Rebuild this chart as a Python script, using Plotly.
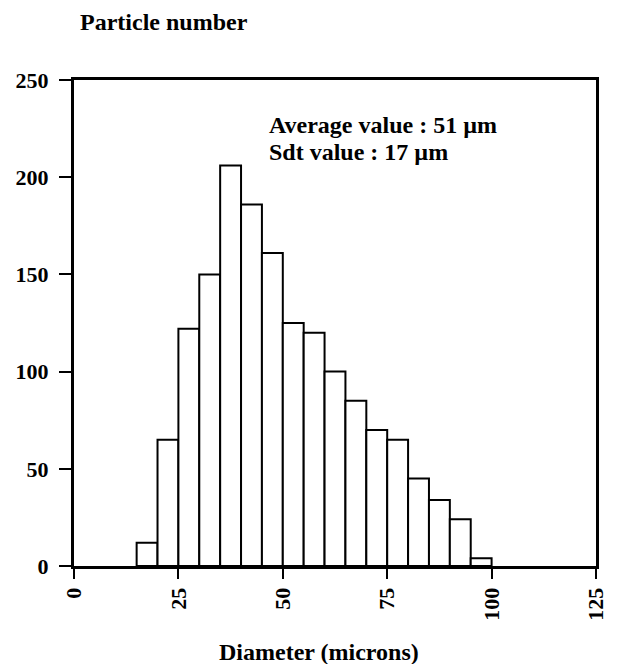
import plotly.graph_objects as go

bin_left = [15, 20, 25, 30, 35, 40, 45, 50, 55, 60, 65, 70, 75, 80, 85, 90, 95]
counts = [12, 65, 122, 150, 206, 186, 161, 125, 120, 100, 85, 70, 65, 45, 34, 24, 4]
bin_width = 5
x_ticks = [0, 25, 50, 75, 100, 125]
y_ticks = [0, 50, 100, 150, 200, 250]

font = "Liberation Serif, Times New Roman, serif"

fig = go.Figure()
fig.add_trace(go.Bar(
    x=[b + bin_width / 2 for b in bin_left],
    y=counts,
    width=bin_width,
    marker=dict(color="white", line=dict(color="black", width=2)),
))

fig.update_layout(
    width=608, height=656,
    margin=dict(l=66, r=8, t=72, b=98),
    plot_bgcolor="white", paper_bgcolor="white",
    showlegend=False,
    font=dict(family=font, size=22, color="black"),
    xaxis=dict(range=[0, 125], tickvals=x_ticks, ticktext=[f"<b>{v}</b>" for v in x_ticks],
               tickangle=-90, ticks="outside", ticklen=10, tickwidth=2, tickcolor="black",
               showline=True, linecolor="black", linewidth=3, mirror=True,
               showgrid=False, zeroline=False, tickfont=dict(size=22),
               ticklabeloverflow="allow"),
    yaxis=dict(range=[0, 250], tickvals=y_ticks, ticktext=[f"<b>{v}</b>" for v in y_ticks],
               ticks="outside", ticklen=12, tickwidth=2, tickcolor="black",
               showline=True, linecolor="black", linewidth=3, mirror=True,
               showgrid=False, zeroline=False, tickfont=dict(size=22),
               ticklabelstandoff=6),
    annotations=[
        dict(text="<b>Particle number</b>", xref="paper", yref="paper", x=0.0, y=1.0,
             xshift=4, yshift=58, xanchor="left", yanchor="middle", showarrow=False,
             font=dict(size=24)),
        dict(text="<b>Diameter (microns)</b>", xref="paper", yref="paper", x=0.47, y=0,
             yshift=-86, xanchor="center", yanchor="middle", showarrow=False,
             font=dict(size=24)),
        dict(text="<b>Average value : 51 µm</b>", xref="x", yref="y",
             x=46.2, y=227, xanchor="left", yanchor="middle", showarrow=False,
             font=dict(size=24)),
        dict(text="<b>Sdt value : 17 µm</b>", xref="x", yref="y",
             x=46.2, y=213, xanchor="left", yanchor="middle", showarrow=False,
             font=dict(size=24)),
    ],
)

fig.write_html("out.html")
